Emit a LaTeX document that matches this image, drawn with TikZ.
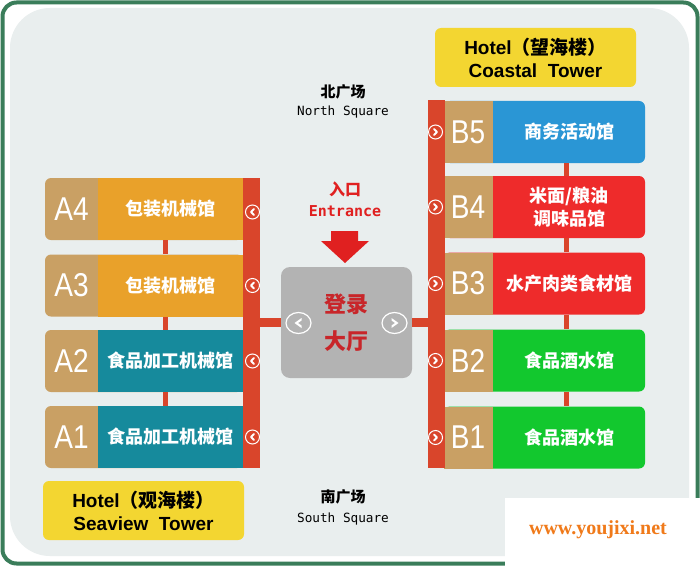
\documentclass[tikz,border=0pt]{standalone}
\usepackage{fontspec}
\setmainfont{Liberation Sans}
\newfontfamily\cjk{Noto Sans CJK SC}
\newfontfamily\mono{DejaVu Sans Mono}
\newfontfamily\wmfont{Liberation Serif}
\definecolor{bgC}{HTML}{E9EEEE}
\definecolor{frameC}{HTML}{3A7D5A}
\definecolor{tanC}{HTML}{C9A064}
\definecolor{orangeC}{HTML}{E9A12A}
\definecolor{tealC}{HTML}{168A9C}
\definecolor{blueC}{HTML}{2A96D5}
\definecolor{redC}{HTML}{EE2B2B}
\definecolor{greenC}{HTML}{12C82E}
\definecolor{barC}{HTML}{D9452B}
\definecolor{yellowC}{HTML}{F3D631}
\definecolor{hallC}{HTML}{B3B3B3}
\definecolor{entC}{HTML}{E02020}
\definecolor{hallTxt}{HTML}{C8262A}
\definecolor{wmC}{HTML}{F07A1A}
\tikzset{
  tanbox/.style={fill=tanC, rounded corners=6pt, minimum height=62pt, inner sep=0pt},
  colbox/.style={minimum height=62pt, inner sep=0pt, text=white},
  tanrect/.style={fill=tanC, minimum height=62pt, minimum width=49pt, inner sep=0pt},
  tagtxt/.style={text=white, inner sep=0pt, font=\fontsize{33}{33}\selectfont},
  boxtxt/.style={text=white, inner sep=0pt, align=center, font=\fontsize{18}{23}\selectfont\cjk\bfseries},
  bar/.style={fill=barC, inner sep=0pt, minimum width=17pt},
  vlink/.style={draw=barC, line width=5pt},
  hlink/.style={draw=barC, line width=9pt},
  hotel/.style={fill=yellowC, rounded corners=6pt, minimum width=201pt, minimum height=59pt, align=center, inner sep=0pt, font=\fontsize{19}{23}\selectfont\bfseries},
  lchev/.style={circle, draw=white, line width=1pt, minimum size=14pt, inner sep=0pt,
    path picture={\draw[white, line width=2pt, line cap=round, line join=round]
      ([shift={(1.5,-3)}]path picture bounding box.center) -- ++(-3,3) -- ++(3,3);}},
  rchev/.style={circle, draw=white, line width=1pt, minimum size=14pt, inner sep=0pt,
    path picture={\draw[white, line width=2pt, line cap=round, line join=round]
      ([shift={(-1.5,-3)}]path picture bounding box.center) -- ++(3,3) -- ++(-3,3);}},
  lbig/.style={ellipse, draw=white, line width=1.2pt, minimum width=25pt, minimum height=21pt, inner sep=0pt,
    path picture={\fill[white]
      ([shift={(3,-5)}]path picture bounding box.center) -- ++(-7,5) -- ++(7,5) -- ++(0,-2.5) -- ++(-3.5,-2.5) -- ++(3.5,-2.5) -- cycle;}},
  rbig/.style={ellipse, draw=white, line width=1.2pt, minimum width=25pt, minimum height=21pt, inner sep=0pt,
    path picture={\fill[white]
      ([shift={(-3,-5)}]path picture bounding box.center) -- ++(7,5) -- ++(-7,5) -- ++(0,-2.5) -- ++(3.5,-2.5) -- ++(-3.5,-2.5) -- cycle;}},
  sqcn/.style={inner sep=0pt, font=\fontsize{15}{15}\selectfont\cjk\bfseries},
  sqen/.style={inner sep=0pt, font=\fontsize{12.7}{13}\selectfont\mono},
}
\usetikzlibrary{shapes.geometric}
\begin{document}
\begin{tikzpicture}[x=1pt, y=-1pt]
\fill[white] (0,0) rectangle (700,567);
\useasboundingbox (0,0) rectangle (700,567);
% frame and panel
\draw[frameC, line width=4pt, rounded corners=14pt, fill=white] (2.5,2.5) rectangle (697.5,563.5);
\fill[bgC, rounded corners=40pt] (10,8) rectangle (689,556);

% left column
\foreach \n/\tg/\y/\c/\t in {a4/A4/209/orangeC/包装机械馆, a3/A3/285.5/orangeC/包装机械馆, a2/A2/361/tealC/食品加工机械馆, a1/A1/437/tealC/食品加工机械馆}{
  \node[tanbox, minimum width=198pt] (\n-tan) at (144,\y) {};
  \node[colbox, fill=\c, minimum width=145pt] (\n) at (170.5,\y) {};
  \node[boxtxt] (\n-txt) at (170.5,\y) {\t};
  \node[tagtxt] (\n-tag) at (71.5,\y) {\scalebox{0.85}[1]{\tg}};
}
\draw[vlink] ([xshift=-5.5pt]a4.south) -- ([xshift=-5.5pt]a3.north);
\draw[vlink] ([xshift=-5.5pt]a3.south) -- ([xshift=-5.5pt]a2.north);
\draw[vlink] ([xshift=-5.5pt]a2.south) -- ([xshift=-5.5pt]a1.north);

% right column
\foreach \n/\tg/\y/\c/\t in {b5/B5/132/blueC/商务活动馆, b4/B4/207/redC/{米面/粮油\\调味品馆}, b3/B3/283.5/redC/水产肉类食材馆, b2/B2/360.5/greenC/食品酒水馆, b1/B1/437.5/greenC/食品酒水馆}{
  \node[colbox, fill=\c, rounded corners=6pt, minimum width=201pt] (\n) at (544.5,\y) {};
  \node[tanrect] (\n-tan) at (468.5,\y) {};
  \node[tagtxt] (\n-tag) at (468,\y) {\scalebox{0.85}[1]{\tg}};
  \node[boxtxt] (\n-txt) at (569,\y) {\t};
}
\draw[vlink] ([xshift=21.5pt]b5.south) -- ([xshift=21.5pt]b4.north);
\draw[vlink] ([xshift=21.5pt]b4.south) -- ([xshift=21.5pt]b3.north);
\draw[vlink] ([xshift=21.5pt]b3.south) -- ([xshift=21.5pt]b2.north);
\draw[vlink] ([xshift=21.5pt]b2.south) -- ([xshift=21.5pt]b1.north);

% bars
\node[bar, minimum height=290pt] (lbar) at (251.5,323) {};
\node[bar, minimum height=368pt] (rbar) at (436.5,284) {};

\foreach \n/\y in {a4/212, a3/285.5, a2/361, a1/437}{
  \node[lchev] (\n-arr) at (252.5,\y) {};
}
\foreach \n/\y in {b5/132, b4/207, b3/283.5, b2/360.5, b1/437.5}{
  \node[rchev] (\n-arr) at (435.5,\y) {};
}

% hall
\node[fill=hallC, rounded corners=9pt, minimum width=131pt, minimum height=111pt, inner sep=0pt,
  text=hallTxt, align=center, font=\fontsize{22}{37}\selectfont\cjk\bfseries] (hall) at (346.5,322.5) {登录\\大厅};
\draw[hlink] (lbar.east |- hall.west) -- (hall.west);
\draw[hlink] (hall.east) -- (rbar.west |- hall.east);
\node[lbig] (hall-l) at (298.5,323) {};
\node[rbig] (hall-r) at (394.5,323) {};

% entrance
\node[inner sep=0pt, text=entC, font=\fontsize{16}{16}\selectfont\cjk\bfseries] (ent-cn) at (345,189) {入口};
\node[inner sep=0pt, text=entC, font=\fontsize{15}{15}\selectfont\mono\bfseries] (ent-en) at (345,211) {Entrance};
\fill[entC] (331,231) -- (358,231) -- (358,241) -- (369,241) -- (345,263) -- (321,241) -- (331,241) -- cycle;

% squares
\node[sqcn] (north-cn) at (343,92) {北广场};
\node[sqen] (north-en) at (343,112) {North Square};
\node[sqcn] (south-cn) at (343,497) {南广场};
\node[sqen] (south-en) at (343,519) {South Square};

% hotels
\node[hotel] (hotel-n) at (535.5,57.5) {Hotel{\cjk（望海楼）}\\Coastal\ \ Tower};
\node[hotel] (hotel-s) at (143.5,510.5) {Hotel{\cjk（观海楼）}\\Seaview\ \ Tower};

% watermark
\fill[white] (505,498) rectangle (700,567);
\node[inner sep=0pt, text=wmC, font=\fontsize{20}{20}\selectfont\wmfont\bfseries] (wm) at (598,530) {www.youjixi.net};
\end{tikzpicture}
\end{document}
